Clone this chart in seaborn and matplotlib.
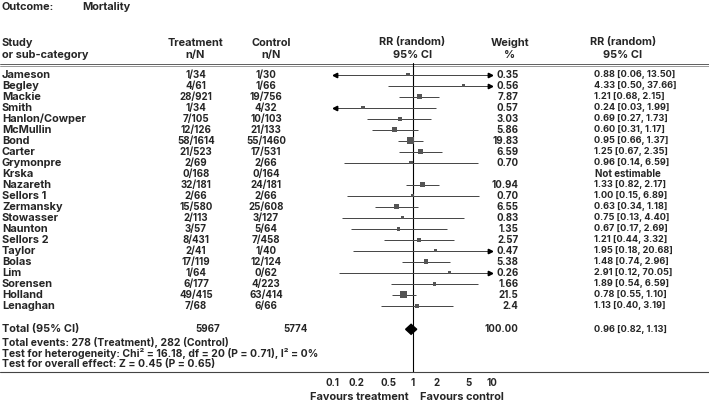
import numpy as np
import pandas as pd
import seaborn as sns
import matplotlib.pyplot as plt

studies = ["Jameson", "Begley", "Mackie", "Smith", "Hanlon/Cowper", "McMullin", "Bond",
           "Carter", "Grymonpre", "Krska", "Nazareth", "Sellors 1", "Zermansky", "Stowasser",
           "Naunton", "Sellors 2", "Taylor", "Bolas", "Lim", "Sorensen", "Holland", "Lenaghan"]
treat = ["1/34", "4/61", "28/921", "1/34", "7/105", "12/126", "58/1614", "21/523", "2/69",
         "0/168", "32/181", "2/66", "15/580", "2/113", "3/57", "8/431", "2/41", "17/119",
         "1/64", "6/177", "49/415", "7/68"]
ctrl = ["1/30", "1/66", "19/756", "4/32", "10/103", "21/133", "55/1460", "17/531", "2/66",
        "0/164", "24/181", "2/66", "25/608", "3/127", "5/64", "7/458", "1/40", "12/124",
        "0/62", "4/223", "63/414", "6/66"]
weight_txt = ["0.35", "0.56", "7.87", "0.57", "3.03", "5.86", "19.83", "6.59", "0.70", "",
              "10.94", "0.70", "6.55", "0.83", "1.35", "2.57", "0.47", "5.38", "0.26", "1.66",
              "21.5", "2.4"]
weights = [0.35, 0.56, 7.87, 0.57, 3.03, 5.86, 19.83, 6.59, 0.70, np.nan, 10.94, 0.70, 6.55,
           0.83, 1.35, 2.57, 0.47, 5.38, 0.26, 1.66, 21.5, 2.4]
rr = [0.88, 4.33, 1.21, 0.24, 0.69, 0.60, 0.95, 1.25, 0.96, np.nan, 1.33, 1.00, 0.63, 0.75,
      0.67, 1.21, 1.95, 1.48, 2.91, 1.89, 0.78, 1.13]
lo = [0.06, 0.50, 0.68, 0.03, 0.27, 0.31, 0.66, 0.67, 0.14, np.nan, 0.82, 0.15, 0.34, 0.13,
      0.17, 0.44, 0.18, 0.74, 0.12, 0.54, 0.55, 0.40]
hi = [13.50, 37.66, 2.15, 1.99, 1.73, 1.17, 1.37, 2.35, 6.59, np.nan, 2.17, 6.89, 1.18, 4.40,
      2.69, 3.32, 20.68, 2.96, 70.05, 6.59, 1.10, 3.19]
total_n = ["5967", "5774"]
total_rr, total_lo, total_hi = 0.96, 0.82, 1.13
ticks = [0.1, 0.2, 0.5, 1, 2, 5, 10]

sns.set_style("white")
plt.rcParams['font.family'] = ['Inter', 'DejaVu Sans']
plt.rcParams['font.weight'] = 'bold'
FS = 7.9    # words
FSN = 7.0   # n/N and weight numbers
FSC = 6.6   # RR [CI] column

# row centres in pixels
row0, step = 74.7, 11.0
ys = row0 + step * np.arange(len(studies))
y_total = 329.3

df = pd.DataFrame({"study": studies, "rr": rr, "lo": lo, "hi": hi, "w": weights, "y": ys})

fig = plt.figure(figsize=(7.09, 4.04), dpi=100)
base = fig.add_axes([0, 0, 1, 1])
base.set_xlim(0, 709)
base.set_ylim(404, 0)
base.axis("off")

def txt(x, y, s, ha="left", fs=FS):
    base.text(x, y, s, ha=ha, va="center", fontsize=fs, fontweight="bold")

txt(2, 6.5, "Outcome:")
txt(82, 6.5, "Mortality")
txt(2, 42.5, "Study")
txt(2, 55, "or sub-category")
for x, a, b in [(195, "Treatment", "n/N"), (271, "Control", "n/N"),
                (412.5, "RR (random)", "95% CI"), (510, "Weight", "%"), (623, "RR (random)", "95% CI")]:
    txt(x, 42.5, a, "center")
    txt(x, 55, b, "center")

base.plot([0, 709], [63.8, 63.8], color="#444", lw=0.6)
base.plot([0, 709], [65.8, 65.8], color="#888", lw=0.6)
base.plot([0, 709], [372.3, 372.3], color="#444", lw=0.8)

for i, y in enumerate(ys):
    txt(2, y, studies[i])
    txt(196, y, treat[i], "center", FSN)
    txt(266, y, ctrl[i], "center", FSN)
    txt(518.5, y, weight_txt[i], "right", FSN)
    if np.isnan(rr[i]):
        txt(595, y, "Not estimable", fs=FSC + 0.4)
    else:
        txt(593.5, y, f"{rr[i]:.2f} [{lo[i]:.2f}, {hi[i]:.2f}]", fs=FSC)

txt(2, y_total, "Total (95% CI)")
txt(208, y_total, total_n[0], "center", FSN)
txt(296, y_total, total_n[1], "center", FSN)
txt(518.5, y_total, "100.00", "right", FSN)
txt(593.5, y_total, f"{total_rr:.2f} [{total_lo:.2f}, {total_hi:.2f}]", fs=FSC)
txt(2, 342.5, "Total events: 278 (Treatment), 282 (Control)", fs=7.5)
txt(2, 353.5, "Test for heterogeneity: Chi\u00b2 = 16.18, df = 20 (P = 0.71), I\u00b2 = 0%", fs=7.5)
txt(2, 364, "Test for overall effect: Z = 0.45 (P = 0.65)", fs=7.5)
txt(409, 397, "Favours treatment", "right")
txt(420, 397, "Favours control")

# forest panel
x0, x1 = 332.7, 492.3
top, bot = 63.0, 372.3
ax = fig.add_axes([x0 / 709, 1 - bot / 404, (x1 - x0) / 709, (bot - top) / 404])
ax.set_xscale("log")
ax.set_xlim(0.1, 10)
ax.set_ylim(bot, top)
ax.patch.set_alpha(0)
for s in ["top", "left", "right", "bottom"]:
    ax.spines[s].set_visible(False)
ax.set_yticks([])
ax.set_xticks(ticks)
ax.set_xticklabels(["0.1", "0.2", "0.5", "1", "2", "5", "10"])
ax.minorticks_off()
ax.tick_params(axis="x", direction="in", length=2.2, width=0.6, color="#444",
               labelsize=FSN, pad=4)
ax.axvline(1, color="black", lw=0.8)

est = df.dropna()
for _, r in est.iterrows():
    a, b = max(r.lo, 0.1), min(r.hi, 10)
    ax.plot([a, b], [r.y, r.y], color="#444", lw=0.7, solid_capstyle="butt")
    if r.hi > 10:
        ax.plot(10 / 10 ** (2.5 / 80), r.y, marker=">", ms=3.2, color="black")
    if r.lo < 0.1:
        ax.plot(0.1 * 10 ** (2.5 / 80), r.y, marker="<", ms=3.2, color="black")

sns.scatterplot(data=est, x="rr", y="y", size="w", sizes=(6, 26), marker="s",
                color="#555", edgecolor="none", legend=False, ax=ax, zorder=3)
ax.set_xlabel("")
ax.set_ylabel("")

ax.fill([total_lo, total_rr, total_hi, total_rr], [y_total, y_total - 5, y_total, y_total + 5],
        color="black", zorder=4)

fig.savefig("out.png", dpi=100)
